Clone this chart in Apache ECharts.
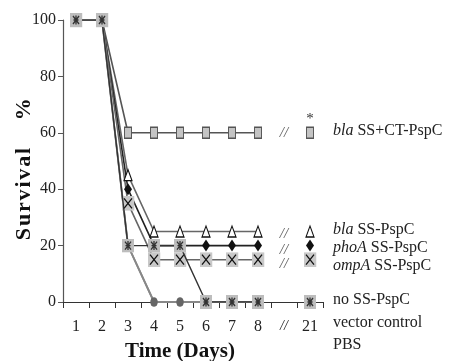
<!DOCTYPE html>
<html>
<head>
<meta charset="utf-8">
<script src="https://cdn.jsdelivr.net/npm/echarts@6/dist/echarts.min.js"></script>
<style>
  html, body { margin: 0; padding: 0; background: #fff; }
  #chart { width: 462px; height: 361px; }
</style>
</head>
<body>
<div id="chart"></div>
<script>
const days = ["1", "2", "3", "4", "5", "6", "7", "8", "//", "21"];
const yTicks = [0, 20, 40, 60, 80, 100];

const blaCT = [100, 100, 60, 60, 60, 60, 60, 60, null, 60];
const blaSS = [100, 100, 45, 25, 25, 25, 25, 25, null, 25];
const phoA = [100, 100, 40, 20, 20, 20, 20, 20, null, 20];
const ompA = [100, 100, 35, 15, 15, 15, 15, 15, null, 15];
const pbs = [100, 100, 20, 0, 0, 0, 0, 0, null, 0];
const vectorCtl = [100, 100, 20, 0, 0, 0, 0, 0, null, 0];
const noSS = [100, 100, 20, 20, 20, 0, 0, 0, null, 0];

// the "//" marks that sit in the gap between day 8 and day 21
const breakLevels = [60, 24, 18.5, 13.5];

const serif = "'Liberation Serif', 'DejaVu Serif', serif";

function svgIcon(body, w, h) {
  const svg = `<svg xmlns="http://www.w3.org/2000/svg" width="${w}" height="${h}" viewBox="0 0 ${w} ${h}">${body}</svg>`;
  return "image://data:image/svg+xml;charset=utf-8," + encodeURIComponent(svg);
}

const xBox = svgIcon(
  '<rect x="0" y="0" width="13" height="15" fill="#c8c8c8"/>' +
  '<path d="M2.5 2.5 L10.5 12.5 M10.5 2.5 L2.5 12.5" stroke="#111" stroke-width="1.3" fill="none"/>',
  13, 15);

const starBox = svgIcon(
  '<rect x="0" y="0" width="12" height="14" fill="#bdbdbd"/>' +
  '<path d="M3 3 L9 11 M9 3 L3 11 M6 2.5 L6 11.5 M3.5 7 L8.5 7" stroke="#333" stroke-width="1.3" fill="none"/>',
  12, 14);

function lineSeries(name, data, opts) {
  return Object.assign({
    name: name,
    type: "line",
    data: data,
    connectNulls: false,
    animation: false,
    z: 2
  }, opts);
}

const ctData = blaCT.map((v, i) => i === 9 ? {
  value: v,
  label: { show: true, position: "top", distance: 0, formatter: "*", fontSize: 15, color: "#333", fontFamily: serif }
} : v);

const series = [
  lineSeries("bla SS+CT-PspC", ctData, {
    symbol: "rect", symbolSize: [7, 11],
    itemStyle: { color: "#c4c4c4", borderColor: "#555", borderWidth: 1.2 },
    lineStyle: { color: "#555", width: 1.6 }
  }),
  lineSeries("bla SS-PspC", blaSS, {
    symbol: "triangle", symbolSize: [8, 11],
    itemStyle: { color: "#fff", borderColor: "#111", borderWidth: 1.2 },
    lineStyle: { color: "#666", width: 1.6 }
  }),
  lineSeries("phoA SS-PspC", phoA, {
    symbol: "diamond", symbolSize: [8, 12],
    itemStyle: { color: "#111" },
    lineStyle: { color: "#222", width: 1.6 }
  }),
  lineSeries("ompA SS-PspC", ompA, {
    symbol: xBox, symbolSize: [13, 15],
    itemStyle: { color: "#777" },
    lineStyle: { color: "#666", width: 1.6 }
  }),
  lineSeries("PBS", pbs, {
    symbol: "circle", symbolSize: [7, 9],
    itemStyle: { color: "#666" },
    lineStyle: { color: "#888", width: 1.8 }
  }),
  lineSeries("vector control", vectorCtl, {
    symbol: "circle", symbolSize: [7, 9],
    itemStyle: { color: "#666" },
    lineStyle: { color: "#888", width: 1.8 }
  }),
  lineSeries("no SS-PspC", noSS, {
    symbol: starBox, symbolSize: [12, 14],
    itemStyle: { color: "#333" },
    lineStyle: { color: "#333", width: 1.4 },
    z: 3
  }),
  {
    type: "scatter",
    silent: true,
    animation: false,
    symbolSize: 1,
    itemStyle: { color: "rgba(0,0,0,0)" },
    data: breakLevels.map(v => [8, v]),
    label: {
      show: true, position: "inside", formatter: "//",
      fontFamily: serif, fontStyle: "italic", fontSize: 15, color: "#333"
    }
  }
];

const labelStyle = { fontFamily: serif, fontSize: 16, fill: "#222" };
const rightLabels = [
  { it: "bla", rest: " SS+CT-PspC", y: 133 },
  { it: "bla", rest: " SS-PspC", y: 232 },
  { it: "phoA", rest: " SS-PspC", y: 250 },
  { it: "ompA", rest: " SS-PspC", y: 268 },
  { it: "", rest: "no SS-PspC", y: 302 },
  { it: "", rest: "vector control", y: 325 },
  { it: "", rest: "PBS", y: 347 }
];

// y title is letter-spaced in the original; hair spaces between letters
const yTitle = "Survival".split("").join("\u200A") + "     %   ";

const chart = echarts.init(document.getElementById("chart"), null, { renderer: "canvas" });

chart.setOption({
  backgroundColor: "#fff",
  animation: false,
  grid: { left: 63, right: 139, top: 20, bottom: 59, containLabel: false, outerBoundsMode: "none" },
  xAxis: {
    type: "category",
    data: days,
    boundaryGap: true,
    axisLine: { lineStyle: { color: "#333", width: 1.2 } },
    axisTick: { show: true, length: 6, inside: false, interval: 0, lineStyle: { color: "#333" } },
    axisLabel: {
      interval: 0,
      margin: 17, fontFamily: serif, fontSize: 16, color: "#222",
      formatter: v => v === "//" ? "{b|//}" : v,
      rich: { b: { fontFamily: serif, fontSize: 14, fontStyle: "italic", color: "#222" } }
    },
    name: "Time (Days)",
    nameLocation: "middle",
    nameGap: 39,
    nameMoveOverlap: false,
    nameTextStyle: {
      fontFamily: serif, fontWeight: "bold", fontSize: 21, color: "#111",
      padding: [0, 26, 0, 0]
    }
  },
  yAxis: {
    type: "value",
    min: 0, max: 100, interval: 20,
    axisLine: { show: true, lineStyle: { color: "#555", width: 1.2 } },
    axisTick: { show: true, length: 5, lineStyle: { color: "#555" } },
    splitLine: { show: false },
    axisLabel: { margin: 7, fontFamily: serif, fontSize: 16, color: "#222" },
    name: yTitle,
    nameLocation: "middle",
    nameGap: 28,
    nameMoveOverlap: false,
    nameRotate: 90,
    nameTextStyle: { fontFamily: serif, fontWeight: "bold", fontSize: 22, color: "#111" }
  },
  graphic: rightLabels.map(l => ({
    type: "text",
    left: 333,
    top: l.y - 10,
    style: {
      text: l.it ? `{i|${l.it}}${l.rest}` : l.rest,
      rich: { i: { fontFamily: serif, fontStyle: "italic", fontSize: 16, fill: "#222" } },
      ...labelStyle
    }
  })),
  series: series
});
</script>
</body>
</html>
